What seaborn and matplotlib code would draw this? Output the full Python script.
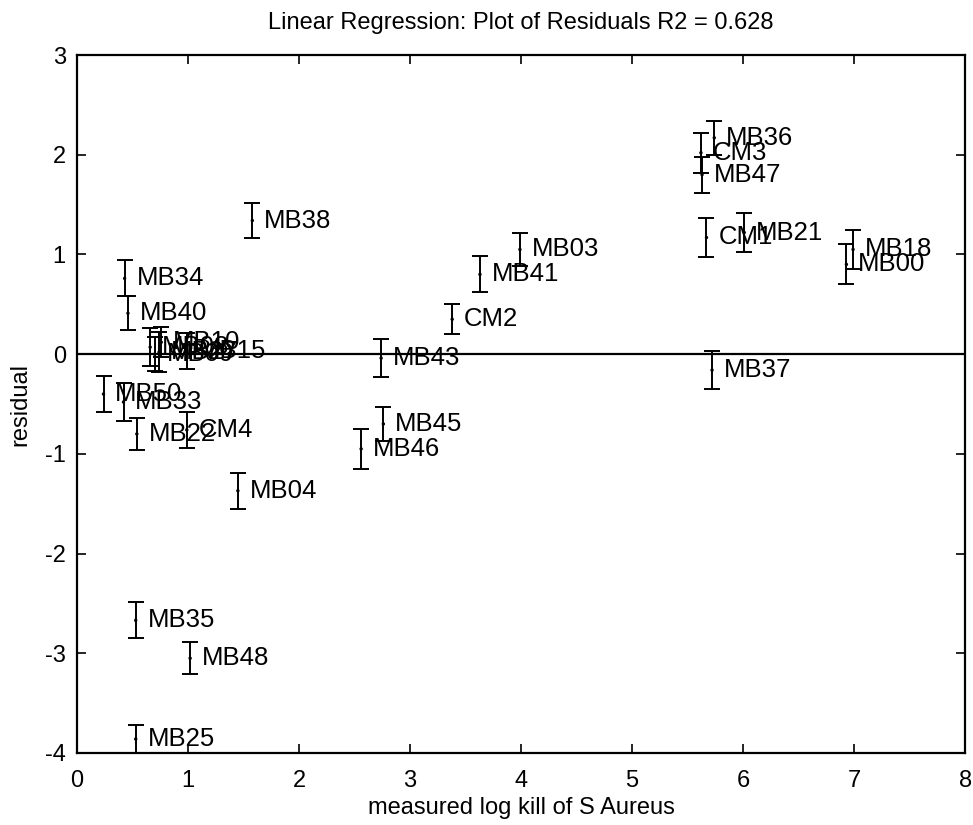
import matplotlib
matplotlib.use("Agg")
import matplotlib.pyplot as plt
import seaborn as sns
import pandas as pd

# Compound identifiers and their regression residuals
names = ["MB34", "MB40", "MB08", "MB10", "MB27", "MB09", "MB15", "MB50", "MB33",
         "MB22", "CM4", "MB38", "MB04", "MB35", "MB48", "MB25", "MB43", "MB45",
         "MB46", "CM2", "MB41", "MB03", "MB36", "CM3", "MB47", "CM1", "MB21",
         "MB37", "MB18", "MB00"]
log_kill = [0.43, 0.46, 0.66, 0.76, 0.74, 0.70, 0.99, 0.24, 0.42,
            0.54, 0.99, 1.58, 1.45, 0.53, 1.02, 0.53, 2.74, 2.76,
            2.56, 3.38, 3.63, 3.99, 5.74, 5.62, 5.63, 5.67, 6.01,
            5.72, 6.99, 6.93]
residual = [0.76, 0.41, 0.07, 0.12, 0.02, 0.00, 0.03, -0.40, -0.48,
            -0.80, -0.76, 1.34, -1.37, -2.67, -3.05, -3.86, -0.04, -0.70,
            -0.95, 0.35, 0.80, 1.05, 2.17, 2.02, 1.80, 1.17, 1.22,
            -0.16, 1.05, 0.90]
err = [0.18, 0.17, 0.19, 0.15, 0.20, 0.17, 0.18, 0.18, 0.19,
       0.16, 0.18, 0.18, 0.18, 0.18, 0.16, 0.14, 0.19, 0.17,
       0.20, 0.15, 0.18, 0.17, 0.17, 0.20, 0.18, 0.20, 0.20,
       0.19, 0.20, 0.20]

title = "Linear Regression: Plot of Residuals R2 = 0.628"
x_ticks = [0, 1, 2, 3, 4, 5, 6, 7, 8]
y_ticks = [-4, -3, -2, -1, 0, 1, 2, 3]

df = pd.DataFrame({"name": names, "x": log_kill, "y": residual, "err": err})

sns.set_style("ticks")
plt.rcParams["font.family"] = ["Liberation Sans", "DejaVu Sans"]
plt.rcParams["axes.unicode_minus"] = False
plt.rcParams["text.color"] = "black"
plt.rcParams["axes.labelcolor"] = "black"
plt.rcParams["xtick.color"] = "black"
plt.rcParams["ytick.color"] = "black"

fig = plt.figure(figsize=(9.73, 8.25), dpi=100)
ax = fig.add_axes([0.079, 0.0873, 0.913, 0.846])

ax.errorbar(df["x"], df["y"], yerr=df["err"], fmt="none", ecolor="black",
            elinewidth=1.4, capsize=5.5, capthick=1.4, zorder=3)
sns.scatterplot(data=df, x="x", y="y", ax=ax, color="black", s=6,
                edgecolor="none", zorder=4, legend=False)

for _, r in df.iterrows():
    ax.annotate(r["name"], (r["x"], r["y"]), xytext=(8.5, 0),
                textcoords="offset points", va="center", ha="left",
                fontsize=18.5, color="black", zorder=5)

ax.axhline(0, color="black", linewidth=1.6, zorder=2)

ax.set_xlim(0, 8)
ax.set_ylim(-4, 3)
ax.set_xticks(x_ticks)
ax.set_yticks(y_ticks)
ax.tick_params(direction="in", top=True, right=True, length=6.5, width=1.2,
               labelsize=17, pad=8)
ax.tick_params(axis="x", pad=12)
for s in ax.spines.values():
    s.set_linewidth(1.6)
    s.set_color("black")

ax.set_title(title, fontsize=17, pad=19, color="black")
ax.set_xlabel("measured log kill of S Aureus", fontsize=17, labelpad=4)
ax.set_ylabel("residual", fontsize=17, labelpad=10)

fig.savefig("out.png", dpi=100)
